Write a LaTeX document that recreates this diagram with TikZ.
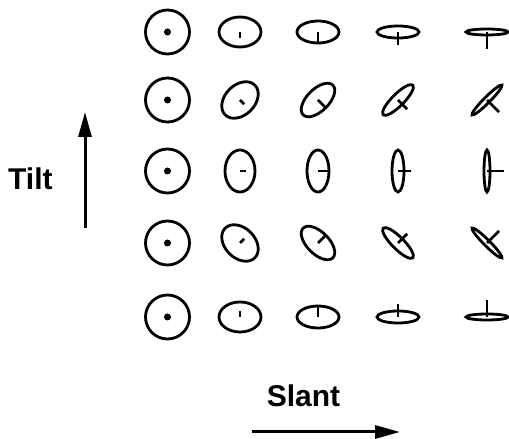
\documentclass[tikz,border=0pt]{standalone}
\usepackage{fontspec}
\setmainfont{Liberation Sans}
\usetikzlibrary{arrows.meta}
\begin{document}
\begin{tikzpicture}[x=1pt,y=1pt,
  gauge/.style={line width=2.8pt},
  axisarrow/.style={line width=3pt,-{Triangle[length=25pt,width=13pt]}},
  axislabel/.style={font=\fontsize{30}{36}\selectfont\bfseries, inner sep=0pt, anchor=base}]
\useasboundingbox (0,0) rectangle (509,439);
% one row per tilt direction, one column per slant
\foreach \row/\yy/\tilt in {1/407/-90, 2/339/-45, 3/268/0, 4/196/45, 5/122/90} {
  % zero slant: a full circle with a dot at its centre
  \node[circle, fill, inner sep=0pt, minimum size=7pt] (dot\row) at (167.5,\yy) {};
  \draw[gauge] (dot\row.center) circle[radius=22];
  % growing slant: flatter ellipse, longer normal stick
  \foreach \col/\xx/\minr/\len in {2/240/15/6, 3/318/11/10, 4/398/6/13, 5/487/3/17} {
    \begin{scope}[shift={(\xx,\yy)}, rotate=\tilt]
      \draw[gauge] (0,0) ellipse[x radius=\minr, y radius=21];
      \draw[gauge] (0,0) -- (\len,0);
    \end{scope}
  }
}
% axis labels and arrows
\node[axislabel, anchor=base west] (tilt) at (8,249) {Tilt};
\coordinate (tiltfrom) at (85,211);
\coordinate (tiltto) at (85,327);
\draw[axisarrow] (tiltfrom) -- (tiltto);
\node[axislabel] (slant) at (303.5,32) {Slant};
\coordinate (slantfrom) at (252,7);
\coordinate (slantto) at (400,7);
\draw[axisarrow] (slantfrom) -- (slantto);
\end{tikzpicture}
\end{document}
